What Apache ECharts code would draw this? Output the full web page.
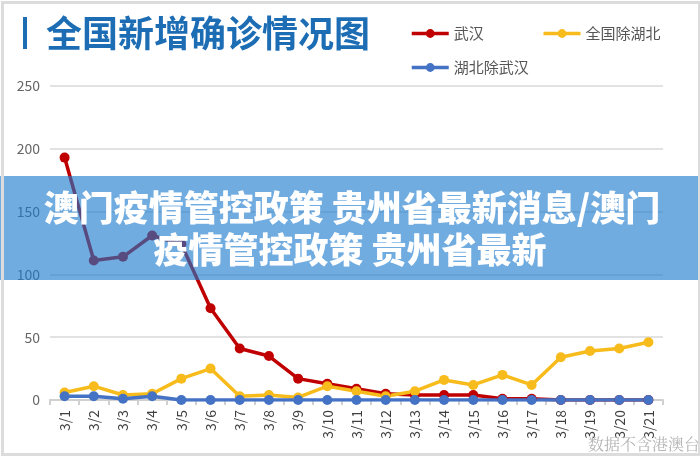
<!DOCTYPE html>
<html>
<head>
<meta charset="utf-8">
<script src="https://cdn.jsdelivr.net/npm/echarts@6/dist/echarts.min.js"></script>
<style>
html,body{margin:0;padding:0;background:#fff;}
#main{width:700px;height:456px;}
</style>
</head>
<body>
<div id="main"></div>
<script>
var categories = ['3/1','3/2','3/3','3/4','3/5','3/6','3/7','3/8','3/9','3/10','3/11','3/12','3/13','3/14','3/15','3/16','3/17','3/18','3/19','3/20','3/21'];
var wuhan =        [193,111,114,131,124,73,41,35,17,13,9,5,4,4,4,1,1,0,0,0,0];
var outsideHubei = [6,11,4,5,17,25,3,4,2,11,7,3,7,16,12,20,12,34,39,41,46];
var hubeiExWuhan = [3,3,1,3,0,0,0,0,0,0,0,0,0,0,0,0,0,0,0,0,0];
var yTicks = [0,50,100,150,200,250];
var seriesNames = ['武汉','全国除湖北','湖北除武汉'];
var titleText = '全国新增确诊情况图';
var bannerLines = ['澳门疫情管控政策 贵州省最新消息/澳门','疫情管控政策 贵州省最新'];
var watermark = '数据不含港澳台';

var FONT = '"Noto Sans CJK SC", "Noto Sans", sans-serif';
var colors = ['#c00000', '#f7bc1c', '#4472c4'];

var chart = echarts.init(document.getElementById('main'), null, {renderer: 'canvas'});
function mk(name, data, color) {
  return {
    name: name, type: 'line', data: data,
    symbol: 'circle', symbolSize: 10,
    lineStyle: {width: 3.5, color: color},
    itemStyle: {color: color},
    animation: false
  };
}
var legendCommon = {itemWidth: 37, itemHeight: 11, lineStyle: {width: 3.5},
  textStyle: {fontSize: 15, color: '#555', fontFamily: FONT}};
var option = {
  animation: false,
  textStyle: {fontFamily: FONT},
  grid: {left: 50, right: 37, top: 86, bottom: 56, containLabel: false},
  legend: [
    Object.assign({data: [seriesNames[0], seriesNames[1]], left: 405, top: 21, itemGap: 58}, legendCommon),
    Object.assign({data: [seriesNames[2]], left: 405, top: 55}, legendCommon)
  ],
  xAxis: {
    type: 'category', data: categories, boundaryGap: true,
    axisLine: {lineStyle: {color: '#d0d0d0', width: 2}},
    axisTick: {show: true, length: 5, lineStyle: {color: '#d0d0d0', width: 2}},
    axisLabel: {rotate: 90, fontSize: 14, color: '#404040', margin: 10, fontFamily: FONT}
  },
  yAxis: {
    type: 'value', min: yTicks[0], max: yTicks[yTicks.length-1], interval: 50,
    axisLine: {show: false}, axisTick: {show: false},
    splitLine: {lineStyle: {color: '#d9d9d9', width: 1.5}},
    axisLabel: {fontSize: 14, color: '#666', margin: 10, fontFamily: FONT}
  },
  series: [
    mk(seriesNames[0], wuhan, colors[0]),
    mk(seriesNames[1], outsideHubei, colors[1]),
    mk(seriesNames[2], hubeiExWuhan, colors[2])
  ],
  graphic: [
    {type: 'rect', left: 0, top: 0, z: 200, silent: true,
     shape: {x: 1.5, y: 1.5, width: 697, height: 452},
     style: {fill: null, stroke: '#dcdcdc', lineWidth: 3}},
    {type: 'rect', z: 10, silent: true, shape: {x: 23, y: 17, width: 4, height: 32}, style: {fill: '#1d6db5'}},
    {type: 'text', z: 10, silent: true, x: 46, y: 33,
     style: {text: titleText, fill: '#1d6db5', font: 'bold 36px ' + FONT, textVerticalAlign: 'middle', textBaseline: 'middle'}},
    {type: 'text', z: 10, silent: true, x: 700, y: 444,
     style: {text: watermark, fill: '#b5b5b5', font: '16px "Noto Serif CJK SC", ' + FONT, textAlign: 'right', textVerticalAlign: 'middle', textBaseline: 'middle'}},
    {type: 'rect', z: 100, silent: true, shape: {x: 0, y: 176, width: 700, height: 104},
     style: {fill: 'rgba(24,121,205,0.62)'}},
    {type: 'text', z: 101, silent: true, x: 352, y: 208,
     style: {text: bannerLines[0], fill: '#fff', font: '900 35px ' + FONT, textAlign: 'center', textVerticalAlign: 'middle', textBaseline: 'middle'}},
    {type: 'text', z: 101, silent: true, x: 350, y: 250,
     style: {text: bannerLines[1], fill: '#fff', font: '900 35px ' + FONT, textAlign: 'center', textVerticalAlign: 'middle', textBaseline: 'middle'}}
  ]
};
chart.setOption(option);
</script>
</body>
</html>
